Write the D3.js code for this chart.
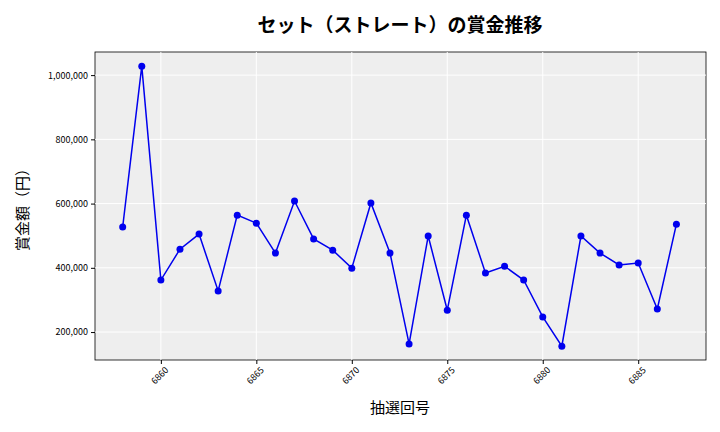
<!DOCTYPE html>
<html><head><meta charset="utf-8">
<script src="https://cdn.jsdelivr.net/npm/d3@7"></script>
<style>body{margin:0;background:#fff}text{font-family:"Noto Sans CJK JP","DejaVu Sans",sans-serif}</style>
</head><body><svg id="c" width="720" height="432"></svg>
<script>
const draws=[6858,6859,6860,6861,6862,6863,6864,6865,6866,6867,6868,6869,6870,6871,6872,6873,6874,6875,6876,6877,6878,6879,6880,6881,6882,6883,6884,6885,6886,6887];
const prizes=[527000,1028000,362000,458000,505000,328000,564000,539000,446000,608000,490000,455000,399000,602000,446000,163000,499000,268000,564000,384000,405000,362000,247000,156000,499000,446000,409000,415000,272000,536000];
const xTicks=[6860,6865,6870,6875,6880,6885];
const yTicks=[200000,400000,600000,800000,1000000];
const svg=d3.select("#c");
const L=95,R=706,T=52,B=360;
const x=d3.scaleLinear().domain([6856.55,6888.55]).range([L,R]);
const y=d3.scaleLinear().domain([113000,1072000]).range([B,T]);
svg.append("rect").attr("x",L).attr("y",T).attr("width",R-L).attr("height",B-T).attr("fill","#eeeeee").attr("stroke","#000").attr("stroke-width",0.8);
svg.append("g").selectAll("line").data(xTicks).join("line").attr("x1",d=>x(d)).attr("x2",d=>x(d)).attr("y1",T).attr("y2",B).attr("stroke","#fff");
svg.append("g").selectAll("line").data(yTicks).join("line").attr("y1",d=>y(d)).attr("y2",d=>y(d)).attr("x1",L).attr("x2",R).attr("stroke","#fff");
const xa=svg.append("g").attr("transform",`translate(0,${B})`).call(d3.axisBottom(x).tickValues(xTicks).tickFormat(d3.format("d")).tickSize(4));
xa.select(".domain").remove();
xa.selectAll("text").attr("font-size",9).attr("text-anchor","end").attr("transform","rotate(-45)").attr("dx","-2").attr("dy","6");
const ya=svg.append("g").attr("transform",`translate(${L},0)`).call(d3.axisLeft(y).tickValues(yTicks).tickFormat(d3.format(",")).tickSize(4));
ya.select(".domain").remove();
ya.selectAll("text").attr("font-size",9);
svg.append("path").datum(draws.map((d,i)=>[d,prizes[i]])).attr("fill","none").attr("stroke","#0000ee").attr("stroke-width",1.5)
 .attr("d",d3.line().x(d=>x(d[0])).y(d=>y(d[1])));
svg.append("g").selectAll("circle").data(draws).join("circle").attr("cx",d=>x(d)).attr("cy",(d,i)=>y(prizes[i])).attr("r",3.5).attr("fill","#0000ee");
svg.append("text").attr("x",400).attr("y",32).attr("text-anchor","middle").attr("font-size",19).attr("font-weight","bold").text("セット（ストレート）の賞金推移");
svg.append("text").attr("x",400).attr("y",413).attr("text-anchor","middle").attr("font-size",15).text("抽選回号");
svg.append("text").attr("transform",`translate(28,${(T+B)/2}) rotate(-90)`).attr("text-anchor","middle").attr("font-size",15).text("賞金額（円）");
</script></body></html>
